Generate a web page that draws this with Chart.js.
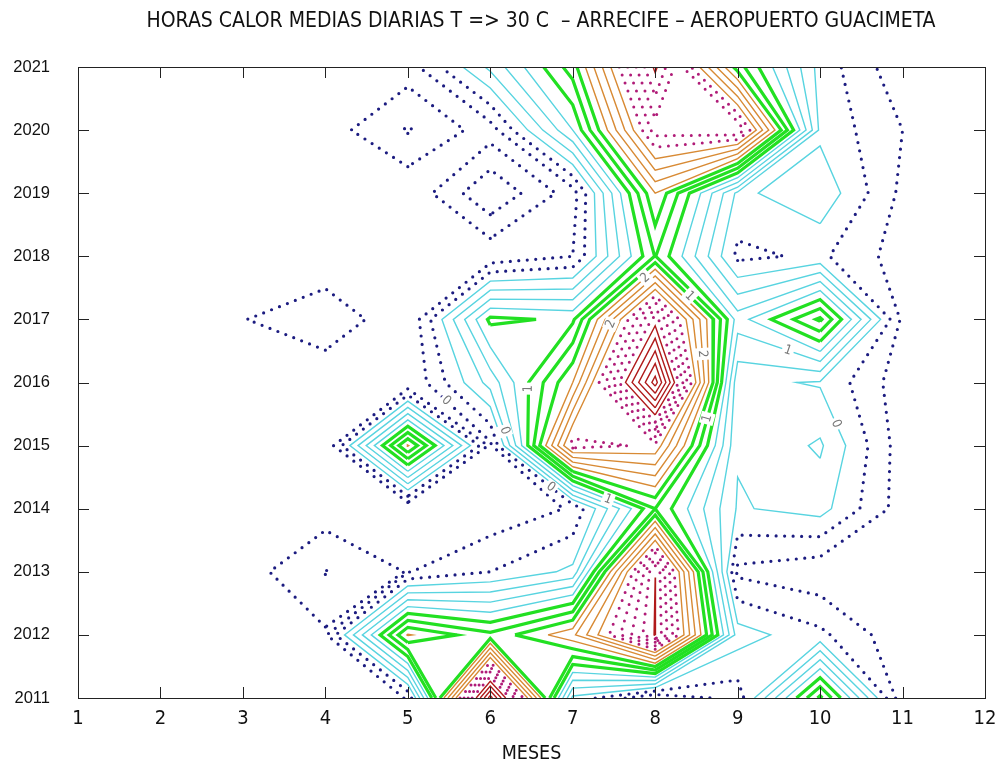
<!DOCTYPE html>
<html>
<head>
<meta charset="utf-8">
<script src="https://cdn.jsdelivr.net/npm/chart.js@4.4.0/dist/chart.umd.min.js"></script>
<style>
  html, body { margin: 0; padding: 0; background: #fff; }
</style>
</head>
<body>
<canvas id="contorno" width="997" height="763"></canvas>
<script>
'use strict'

// ejes
var meses = [1, 2, 3, 4, 5, 6, 7, 8, 9, 10, 11, 12];
var anios = [2011, 2012, 2013, 2014, 2015, 2016, 2017, 2018, 2019, 2020, 2021];

// horas calor medias diarias por mes (una fila por año)
var horas2011 = [0, 0, 0, 0, 0.21, 4.3, 0.55, 0, 0.28, 1.85, 0.05, 0];
var horas2012 = [0, 0, 0, 0.17, 2.02, 1.65, 2.15, 3.62, 0.7, 0.45, 0.05, 0];
var horas2013 = [0, 0, 0.1, 0.41, 0.19, 0.4, 0.65, 3.598, 0.15, 0.05, 0, 0];
var horas2014 = [0, 0, 0, 0.09, 0, 0.05, 0.22, 1.6, 0.58, 0.68, 0.1, 0];
var horas2015 = [0, 0, 0, 0, 2.02, 0.15, 2.9, 2.75, 0.62, 0.83, 0.09, 0];
var horas2016 = [0, 0, 0, 0, 0, 0.88, 2.0, 4.5, 0.65, 0.58, 0.08, 0];
var horas2017 = [0, 0, 0.19, 0.39, 0, 1.45, 1.36, 3.5, 1.1, 1.84, 0.15, 0];
var horas2018 = [0, 0, 0, 0, 0, 0.05, 0.2, 1.61, 0.35, 0.44, 0.1, 0];
var horas2019 = [0, 0, 0, 0, 0.04, 0.58, 0.1, 2.0, 0.55, 0.75, 0.15, 0];
var horas2020 = [0, 0, 0, 0.1, 0.42, 0.1, 1.2, 3.1, 3.2, 0.55, 0.2, 0];
var horas2021 = [0, 0, 0, 0, 0.1, 0.85, 1.7, 3.65, 1.7, 0.52, 0.05, 0];

// niveles de contorno
var niveles = [0.2, 0.4, 0.6, 0.8, 1.0, 1.2, 1.4, 1.6, 1.8, 2.0, 2.2, 2.4, 2.6,
               2.8, 3.0, 3.2, 3.4, 3.6, 3.8, 4.0, 4.2, 4.4];

var filas = [horas2011, horas2012, horas2013, horas2014, horas2015, horas2016,
             horas2017, horas2018, horas2019, horas2020, horas2021];

var titulo = 'HORAS CALOR MEDIAS DIARIAS T => 30 C  \u2013 ARRECIFE \u2013 AEROPUERTO GUACIMETA';
var letra = "'Liberation Sans Narrow', 'DejaVu Sans Condensed', sans-serif";

function estilo(lev) {
  if (lev < 0.5) return { color: '#1c1c80', width: 3.2, dash: [0, 8.5] };
  if (lev < 1.3) return { color: '#58d4e0', width: 1.4, dash: [] };
  if (lev < 1.9) return { color: '#22e022', width: 3.2, dash: [] };
  if (lev < 2.7) return { color: '#d88a34', width: 1.4, dash: [] };
  if (lev < 3.5) return { color: '#b01c78', width: 3, dash: [0, 8.5] };
  return { color: '#b01a1a', width: 1.4, dash: [] };
}

// marching squares sobre la rejilla mes x año
function cortes(lev) {
  var segs = [];
  function t(v0, v1) { return (lev - v0) / (v1 - v0); }
  for (var j = 0; j < anios.length - 1; j++) {
    for (var i = 0; i < meses.length - 1; i++) {
      var a = filas[j][i], b = filas[j][i + 1], c = filas[j + 1][i + 1], d = filas[j + 1][i];
      var code = (a > lev ? 1 : 0) | (b > lev ? 2 : 0) | (c > lev ? 4 : 0) | (d > lev ? 8 : 0);
      if (code === 0 || code === 15) continue;
      var x0 = meses[i], x1 = meses[i + 1], y0 = anios[j], y1 = anios[j + 1];
      var s = (a > lev) !== (b > lev) ? { k: 'h' + i + '_' + j, x: x0 + t(a, b) * (x1 - x0), y: y0 } : null;
      var e = (b > lev) !== (c > lev) ? { k: 'v' + (i + 1) + '_' + j, x: x1, y: y0 + t(b, c) * (y1 - y0) } : null;
      var n = (d > lev) !== (c > lev) ? { k: 'h' + i + '_' + (j + 1), x: x0 + t(d, c) * (x1 - x0), y: y1 } : null;
      var w = (a > lev) !== (d > lev) ? { k: 'v' + i + '_' + j, x: x0, y: y0 + t(a, d) * (y1 - y0) } : null;
      if (code === 5) { segs.push([s, w], [n, e]); }
      else if (code === 10) { segs.push([s, e], [n, w]); }
      else {
        var p = [s, e, n, w].filter(Boolean);
        segs.push([p[0], p[1]]);
      }
    }
  }
  return segs;
}

// une los segmentos en polilíneas
function unir(segs) {
  var mapa = {}, usado = [], lineas = [];
  segs.forEach(function (sg, n) {
    sg.forEach(function (p) { (mapa[p.k] = mapa[p.k] || []).push(n); });
  });
  function cadena(n, k) {
    var pts = [segs[n][0].k === k ? segs[n][0] : segs[n][1]];
    while (true) {
      usado[n] = true;
      var otro = segs[n][0].k === k ? segs[n][1] : segs[n][0];
      pts.push(otro);
      k = otro.k;
      var sig = mapa[k].filter(function (m) { return !usado[m]; });
      if (!sig.length) break;
      n = sig[0];
    }
    return pts;
  }
  segs.forEach(function (sg, n) {
    if (usado[n]) return;
    if (mapa[sg[0].k].length === 1) lineas.push(cadena(n, sg[0].k));
    else if (mapa[sg[1].k].length === 1) lineas.push(cadena(n, sg[1].k));
  });
  segs.forEach(function (sg, n) {
    if (!usado[n]) lineas.push(cadena(n, sg[0].k));
  });
  return lineas;
}

var datasets = [];
niveles.forEach(function (lev) {
  var st = estilo(lev);
  unir(cortes(lev)).forEach(function (pts) {
    datasets.push({
      nivel: lev,
      data: pts.map(function (p) { return { x: p.x, y: p.y }; }),
      showLine: true,
      borderColor: st.color,
      borderWidth: st.width,
      borderDash: st.dash,
      borderCapStyle: st.dash.length ? 'round' : 'butt',
      borderJoinStyle: 'miter',
      pointRadius: 0,
      tension: 0,
      fill: false
    });
  });
});

// etiquetas de nivel: una por nivel, en la línea más larga, sin solaparse
var etiquetas = {
  id: 'etiquetas',
  afterDatasetsDraw: function (chart) {
    var ctx = chart.ctx, sx = chart.scales.x, sy = chart.scales.y;
    var puestas = [];
    ctx.save();
    ctx.font = '13px ' + letra;
    ctx.textAlign = 'center';
    ctx.textBaseline = 'middle';
    niveles.forEach(function (lev) {
      if (lev > 2.9) return;
      var mejor = null, mejorLargo = 0;
      chart.data.datasets.forEach(function (ds) {
        if (ds.nivel !== lev) return;
        var px = ds.data.map(function (p) { return [sx.getPixelForValue(p.x), sy.getPixelForValue(p.y)]; });
        var acc = [0];
        for (var i = 1; i < px.length; i++) {
          acc.push(acc[i - 1] + Math.hypot(px[i][0] - px[i - 1][0], px[i][1] - px[i - 1][1]));
        }
        if (acc[acc.length - 1] > mejorLargo) { mejorLargo = acc[acc.length - 1]; mejor = { px: px, acc: acc }; }
      });
      if (!mejor || mejorLargo < 300) return;
      var fracs = [0.5, 0.4, 0.6, 0.3, 0.7];
      for (var q = 0; q < fracs.length; q++) {
        var meta = mejorLargo * fracs[q], px = mejor.px, acc = mejor.acc;
        for (var k = 1; k < px.length; k++) {
          if (acc[k] < meta) continue;
          var f = (meta - acc[k - 1]) / (acc[k] - acc[k - 1]);
          var x = px[k - 1][0] + f * (px[k][0] - px[k - 1][0]);
          var y = px[k - 1][1] + f * (px[k][1] - px[k - 1][1]);
          var libre = puestas.every(function (p) { return Math.hypot(p[0] - x, p[1] - y) > 45; });
          if (!libre) break;
          var ang = Math.atan2(px[k][1] - px[k - 1][1], px[k][0] - px[k - 1][0]);
          if (ang > Math.PI / 2) ang -= Math.PI;
          if (ang < -Math.PI / 2) ang += Math.PI;
          ctx.save();
          ctx.translate(x, y);
          ctx.rotate(ang);
          ctx.fillStyle = '#fff';
          ctx.fillRect(-6, -7, 12, 14);
          ctx.fillStyle = '#777';
          ctx.fillText(String(Math.floor(lev + 1e-9)), 0, 0);
          ctx.restore();
          puestas.push([x, y]);
          q = fracs.length;
          break;
        }
      }
    });
    ctx.restore();
  }
};

// marco con marcas hacia dentro y titulo
var marco = {
  id: 'marco',
  afterDraw: function (chart) {
    var ctx = chart.ctx, a = chart.chartArea;
    var sx = chart.scales.x, sy = chart.scales.y;
    ctx.save();
    ctx.strokeStyle = '#222';
    ctx.lineWidth = 1;
    ctx.strokeRect(Math.round(a.left) + 0.5, Math.round(a.top) + 0.5,
                   Math.round(a.right - a.left), Math.round(a.bottom - a.top));
    ctx.beginPath();
    meses.forEach(function (m) {
      var px = Math.round(sx.getPixelForValue(m)) + 0.5;
      ctx.moveTo(px, a.bottom); ctx.lineTo(px, a.bottom - 11);
      ctx.moveTo(px, a.top); ctx.lineTo(px, a.top + 11);
    });
    anios.forEach(function (y) {
      var py = Math.round(sy.getPixelForValue(y)) + 0.5;
      ctx.moveTo(a.left, py); ctx.lineTo(a.left + 11, py);
      ctx.moveTo(a.right, py); ctx.lineTo(a.right - 11, py);
    });
    ctx.stroke();
    ctx.fillStyle = '#111';
    ctx.font = '21px ' + letra;
    ctx.textAlign = 'center';
    ctx.textBaseline = 'middle';
    ctx.fillText(titulo, 541, 22);
    ctx.restore();
  }
};

new Chart(document.getElementById('contorno'), {
  type: 'scatter',
  data: { datasets: datasets },
  options: {
    responsive: false,
    animation: false,
    events: [],
    layout: { padding: { left: 0, right: 12, top: 67, bottom: 0 } },
    plugins: {
      legend: { display: false },
      tooltip: { enabled: false },
      title: { display: false }
    },
    scales: {
      x: {
        type: 'linear',
        min: 1,
        max: 12,
        ticks: {
          stepSize: 1,
          color: '#111',
          padding: 9,
          font: { family: letra, size: 20 }
        },
        grid: { display: false, drawTicks: false },
        border: { display: false },
        title: {
          display: true,
          text: 'MESES',
          color: '#111',
          font: { family: letra, size: 19.5 },
          padding: { top: 0, bottom: -3 }
        },
        afterFit: function (scale) {
          scale.height = 65;
          scale.paddingLeft = 0;
          scale.paddingRight = 0;
        }
      },
      y: {
        type: 'linear',
        min: 2011,
        max: 2021,
        ticks: {
          stepSize: 1,
          color: '#111',
          padding: 28,
          font: { family: "'Liberation Sans', Arial, sans-serif", size: 16.5 },
          callback: function (v) { return String(v); }
        },
        grid: { display: false, drawTicks: false },
        border: { display: false },
        afterFit: function (scale) {
          scale.width = 78;
          scale.paddingTop = 0;
          scale.paddingBottom = 0;
        }
      }
    }
  },
  plugins: [etiquetas, marco]
});
</script>
</body>
</html>
